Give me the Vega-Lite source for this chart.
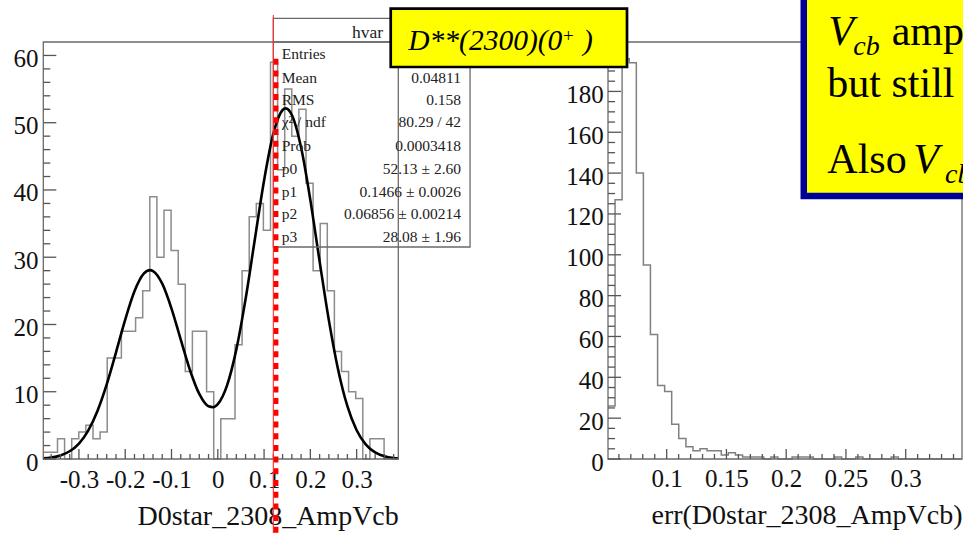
{
  "$schema": "https://vega.github.io/schema/vega-lite/v6.json",
  "width": 963,
  "height": 459,
  "autosize": {"type": "none"},
  "padding": {"left": 0, "top": 0, "right": 0, "bottom": 74},
  "background": "white",
  "config": {
    "view": {"stroke": null},
    "font": "Liberation Serif",
    "style": {
      "guide-label": {"font": "Liberation Serif", "fontSize": 25, "fill": "#111111"},
      "guide-title": {"font": "Liberation Serif", "fontSize": 28, "fontWeight": "normal", "fill": "#111111"}
    },
    "axis": {
      "domain": false,
      "grid": false,
      "ticks": false,
      "tickSize": 0,
      "labelFont": "Liberation Serif",
      "labelFontSize": 25,
      "labelColor": "#111111",
      "titleFont": "Liberation Serif",
      "titleFontSize": 28,
      "titleFontWeight": "normal",
      "titleColor": "#111111",
      "labelOverlap": false,
      "labelFlush": false,
      "labelBound": false
    }
  },
  "datasets": {
    "amp": [
      {"lo": -0.3770, "n": 1}, {"lo": -0.3617, "n": 1}, {"lo": -0.3463, "n": 3}, {"lo": -0.3310, "n": 0},
      {"lo": -0.3156, "n": 3}, {"lo": -0.3003, "n": 4}, {"lo": -0.2850, "n": 5}, {"lo": -0.2696, "n": 3},
      {"lo": -0.2543, "n": 4}, {"lo": -0.2389, "n": 15}, {"lo": -0.2236, "n": 15}, {"lo": -0.2083, "n": 19},
      {"lo": -0.1929, "n": 19}, {"lo": -0.1776, "n": 21}, {"lo": -0.1622, "n": 25}, {"lo": -0.1469, "n": 39},
      {"lo": -0.1316, "n": 30}, {"lo": -0.1162, "n": 37}, {"lo": -0.1009, "n": 31}, {"lo": -0.0855, "n": 26},
      {"lo": -0.0702, "n": 13}, {"lo": -0.0549, "n": 19}, {"lo": -0.0395, "n": 19}, {"lo": -0.0242, "n": 10},
      {"lo": -0.0088, "n": 0}, {"lo": 0.0065, "n": 6}, {"lo": 0.0218, "n": 6}, {"lo": 0.0372, "n": 17},
      {"lo": 0.0525, "n": 28}, {"lo": 0.0679, "n": 36}, {"lo": 0.0832, "n": 38}, {"lo": 0.0985, "n": 34},
      {"lo": 0.1139, "n": 59}, {"lo": 0.1292, "n": 43}, {"lo": 0.1446, "n": 55}, {"lo": 0.1599, "n": 48},
      {"lo": 0.1752, "n": 52}, {"lo": 0.1906, "n": 41}, {"lo": 0.2059, "n": 28}, {"lo": 0.2213, "n": 35},
      {"lo": 0.2366, "n": 25}, {"lo": 0.2519, "n": 16}, {"lo": 0.2673, "n": 13}, {"lo": 0.2826, "n": 10},
      {"lo": 0.2980, "n": 9}, {"lo": 0.3133, "n": 0}, {"lo": 0.3286, "n": 3}, {"lo": 0.3440, "n": 3},
      {"lo": 0.3593, "n": 0}, {"lo": 0.3747, "n": 0}, {"lo": 0.3900, "n": 0}
    ],
    "fit": [
      {"x": -0.377, "f": 0.10}, {"x": -0.36, "f": 0.22}, {"x": -0.34, "f": 0.53}, {"x": -0.32, "f": 1.15},
      {"x": -0.30, "f": 2.30}, {"x": -0.28, "f": 4.23}, {"x": -0.26, "f": 7.15}, {"x": -0.24, "f": 11.10},
      {"x": -0.22, "f": 15.83}, {"x": -0.20, "f": 20.73}, {"x": -0.18, "f": 24.94}, {"x": -0.16, "f": 27.55},
      {"x": -0.1466, "f": 28.08}, {"x": -0.14, "f": 27.95}, {"x": -0.12, "f": 26.07}, {"x": -0.10, "f": 22.37},
      {"x": -0.08, "f": 17.74}, {"x": -0.06, "f": 13.20}, {"x": -0.04, "f": 9.67}, {"x": -0.02, "f": 7.83},
      {"x": -0.01, "f": 7.70}, {"x": 0.00, "f": 8.15}, {"x": 0.02, "f": 10.94}, {"x": 0.04, "f": 16.26},
      {"x": 0.06, "f": 23.77}, {"x": 0.08, "f": 32.64}, {"x": 0.10, "f": 41.42}, {"x": 0.12, "f": 48.37},
      {"x": 0.14, "f": 51.89}, {"x": 0.1466, "f": 52.13}, {"x": 0.16, "f": 51.15}, {"x": 0.18, "f": 46.30},
      {"x": 0.20, "f": 38.49}, {"x": 0.22, "f": 29.39}, {"x": 0.24, "f": 20.61}, {"x": 0.26, "f": 13.27},
      {"x": 0.28, "f": 7.85}, {"x": 0.30, "f": 4.27}, {"x": 0.32, "f": 2.13}, {"x": 0.34, "f": 0.98},
      {"x": 0.36, "f": 0.41}, {"x": 0.38, "f": 0.16}, {"x": 0.39, "f": 0.10}
    ],
    "stats": [
      {"label": "Entries", "value": "967", "level": 60.21},
      {"label": "Mean", "value": "0.04811", "level": 56.60},
      {"label": "RMS", "value": "0.158", "level": 53.38},
      {"label": "χ² / ndf", "value": "80.29 / 42", "level": 50.06},
      {"label": "Prob", "value": "0.0003418", "level": 46.54},
      {"label": "p0", "value": "52.13 ± 2.60", "level": 43.12},
      {"label": "p1", "value": "0.1466 ± 0.0026", "level": 39.65},
      {"label": "p2", "value": "0.06856 ± 0.00214", "level": 36.38},
      {"label": "p3", "value": "28.08 ± 1.96", "level": 32.96}
    ],
    "ampYMajor": [{"v": 0}, {"v": 10}, {"v": 20}, {"v": 30}, {"v": 40}, {"v": 50}, {"v": 60}],
    "ampYMinor": [
      {"v": 2}, {"v": 4}, {"v": 6}, {"v": 8}, {"v": 12}, {"v": 14}, {"v": 16}, {"v": 18},
      {"v": 22}, {"v": 24}, {"v": 26}, {"v": 28}, {"v": 32}, {"v": 34}, {"v": 36}, {"v": 38},
      {"v": 42}, {"v": 44}, {"v": 46}, {"v": 48}, {"v": 52}, {"v": 54}, {"v": 56}, {"v": 58}
    ],
    "ampXMajor": [{"v": -0.3}, {"v": -0.2}, {"v": -0.1}, {"v": 0}, {"v": 0.1}, {"v": 0.2}, {"v": 0.3}],
    "ampXMinor": [
      {"v": -0.36}, {"v": -0.34}, {"v": -0.32}, {"v": -0.28}, {"v": -0.26}, {"v": -0.24}, {"v": -0.22},
      {"v": -0.18}, {"v": -0.16}, {"v": -0.14}, {"v": -0.12}, {"v": -0.08}, {"v": -0.06}, {"v": -0.04},
      {"v": -0.02}, {"v": 0.02}, {"v": 0.04}, {"v": 0.06}, {"v": 0.08}, {"v": 0.12}, {"v": 0.14},
      {"v": 0.16}, {"v": 0.18}, {"v": 0.22}, {"v": 0.24}, {"v": 0.26}, {"v": 0.28}, {"v": 0.32},
      {"v": 0.34}, {"v": 0.36}, {"v": 0.38}
    ],
    "err": [
      {"lo": 0.0509, "n": 26}, {"lo": 0.0568, "n": 127}, {"lo": 0.0627, "n": 196}, {"lo": 0.0687, "n": 194},
      {"lo": 0.0746, "n": 140}, {"lo": 0.0805, "n": 95}, {"lo": 0.0864, "n": 61}, {"lo": 0.0924, "n": 36},
      {"lo": 0.0983, "n": 33}, {"lo": 0.1042, "n": 17}, {"lo": 0.1101, "n": 10}, {"lo": 0.1161, "n": 6},
      {"lo": 0.1220, "n": 4}, {"lo": 0.1279, "n": 5}, {"lo": 0.1338, "n": 4}, {"lo": 0.1398, "n": 4},
      {"lo": 0.1457, "n": 2}, {"lo": 0.1516, "n": 3}, {"lo": 0.1575, "n": 2}, {"lo": 0.1635, "n": 1},
      {"lo": 0.1694, "n": 1}, {"lo": 0.1753, "n": 1}, {"lo": 0.1812, "n": 0}, {"lo": 0.1872, "n": 1},
      {"lo": 0.1931, "n": 0}, {"lo": 0.1990, "n": 0}, {"lo": 0.2049, "n": 1}, {"lo": 0.2109, "n": 1},
      {"lo": 0.2168, "n": 1}, {"lo": 0.2227, "n": 0}, {"lo": 0.2286, "n": 0}, {"lo": 0.2345, "n": 0},
      {"lo": 0.2405, "n": 1}, {"lo": 0.2464, "n": 0}, {"lo": 0.2523, "n": 0}, {"lo": 0.2582, "n": 1},
      {"lo": 0.2642, "n": 0}, {"lo": 0.2701, "n": 0}, {"lo": 0.2760, "n": 0}, {"lo": 0.2819, "n": 0},
      {"lo": 0.2879, "n": 1}, {"lo": 0.2938, "n": 0}, {"lo": 0.2997, "n": 0}, {"lo": 0.3056, "n": 0},
      {"lo": 0.3116, "n": 0}, {"lo": 0.3175, "n": 0}, {"lo": 0.3234, "n": 0}, {"lo": 0.3293, "n": 0},
      {"lo": 0.3353, "n": 0}, {"lo": 0.3412, "n": 0}, {"lo": 0.3471, "n": 0}
    ],
    "errYMajor": [{"v": 0}, {"v": 20}, {"v": 40}, {"v": 60}, {"v": 80}, {"v": 100}, {"v": 120}, {"v": 140}, {"v": 160}, {"v": 180}, {"v": 200}],
    "errYMinor": [
      {"v": 5}, {"v": 10}, {"v": 15}, {"v": 25}, {"v": 30}, {"v": 35}, {"v": 45}, {"v": 50}, {"v": 55},
      {"v": 65}, {"v": 70}, {"v": 75}, {"v": 85}, {"v": 90}, {"v": 95}, {"v": 105}, {"v": 110}, {"v": 115},
      {"v": 125}, {"v": 130}, {"v": 135}, {"v": 145}, {"v": 150}, {"v": 155}, {"v": 165}, {"v": 170},
      {"v": 175}, {"v": 185}, {"v": 190}, {"v": 195}
    ],
    "errXMajor": [{"v": 0.1}, {"v": 0.15}, {"v": 0.2}, {"v": 0.25}, {"v": 0.3}],
    "errXMinor": [
      {"v": 0.06}, {"v": 0.07}, {"v": 0.08}, {"v": 0.09}, {"v": 0.11}, {"v": 0.12}, {"v": 0.13}, {"v": 0.14},
      {"v": 0.16}, {"v": 0.17}, {"v": 0.18}, {"v": 0.19}, {"v": 0.21}, {"v": 0.22}, {"v": 0.23}, {"v": 0.24},
      {"v": 0.26}, {"v": 0.27}, {"v": 0.28}, {"v": 0.29}, {"v": 0.31}, {"v": 0.32}, {"v": 0.33}, {"v": 0.34}
    ]
  },
  "layer": [
    {
      "layer": [
        {
          "data": {"name": "amp"},
          "mark": {"type": "line", "interpolate": "step-after", "stroke": "#8c8c8c", "strokeWidth": 1.5},
          "encoding": {
            "x": {
              "field": "lo", "type": "quantitative",
              "scale": {"domain": [-0.377, 0.39], "range": [43.3, 398.3], "nice": false, "zero": false},
              "axis": {
                "orient": "bottom",
                "values": [-0.3, -0.2, -0.1, 0, 0.1, 0.2, 0.3],
                "labelExpr": "abs(datum.value) < 0.001 ? '0' : (datum.value < 0 ? '-' : '') + format(abs(datum.value), '.1f')",
                "labelFont": "Liberation Serif",
                "labelFontSize": 25,
                "labelBaseline": "alphabetic",
                "labelPadding": 28.3,
                "labelOverlap": false,
                "title": "D0star_2308_AmpVcb",
                "titleFont": "Liberation Serif",
                "titleFontSize": 28,
                "titleFontWeight": "normal",
                "titleAnchor": "end",
                "titleBaseline": "alphabetic",
                "titleY": 65.5
              }
            },
            "y": {
              "field": "n", "type": "quantitative",
              "scale": {"domain": [0, 62], "range": [459, 42], "nice": false, "zero": false},
              "axis": {
                "orient": "left",
                "offset": -43.3,
                "values": [0, 10, 20, 30, 40, 50, 60],
                "labelFont": "Liberation Serif",
                "labelFontSize": 25,
                "labelPadding": 5.3,
                "labelOffset": 3,
                "labelOverlap": false,
                "title": null
              }
            }
          }
        },
        {
          "data": {"name": "fit"},
          "mark": {"type": "line", "interpolate": "monotone", "stroke": "#000000", "strokeWidth": 2.6},
          "encoding": {
            "x": {"field": "x", "type": "quantitative"},
            "y": {"field": "f", "type": "quantitative"}
          }
        },
        {
          "data": {"values": [{}]},
          "mark": {"type": "rect", "fillOpacity": 0, "stroke": "#6a6a6a", "strokeWidth": 1.3},
          "encoding": {
            "x": {"datum": -0.377}, "x2": {"datum": 0.39},
            "y": {"datum": 0}, "y2": {"datum": 62}
          }
        },
        {
          "data": {"name": "ampYMajor"},
          "mark": {"type": "rule", "stroke": "#555555", "strokeWidth": 1.3},
          "encoding": {
            "x": {"datum": -0.377}, "x2": {"datum": -0.3489},
            "y": {"field": "v", "type": "quantitative"}
          }
        },
        {
          "data": {"name": "ampYMinor"},
          "mark": {"type": "rule", "stroke": "#555555", "strokeWidth": 1.3},
          "encoding": {
            "x": {"datum": -0.377}, "x2": {"datum": -0.3619},
            "y": {"field": "v", "type": "quantitative"}
          }
        },
        {
          "data": {"name": "ampXMajor"},
          "mark": {"type": "rule", "stroke": "#555555", "strokeWidth": 1.3},
          "encoding": {
            "x": {"field": "v", "type": "quantitative"},
            "y": {"datum": 0}, "y2": {"datum": 1.49}
          }
        },
        {
          "data": {"name": "ampXMinor"},
          "mark": {"type": "rule", "stroke": "#555555", "strokeWidth": 1.3},
          "encoding": {
            "x": {"field": "v", "type": "quantitative"},
            "y": {"datum": 0}, "y2": {"datum": 0.74}
          }
        },
        {
          "data": {"values": [{}]},
          "mark": {"type": "rect", "fillOpacity": 0, "stroke": "#6a6a6a", "strokeWidth": 1.3},
          "encoding": {
            "x": {"datum": 0.12}, "x2": {"datum": 0.545},
            "y": {"datum": 31.52}, "y2": {"datum": 65.52}
          }
        },
        {
          "data": {"values": [{}]},
          "mark": {"type": "rule", "stroke": "#6a6a6a", "strokeWidth": 1.3},
          "encoding": {
            "x": {"datum": 0.12}, "x2": {"datum": 0.545},
            "y": {"datum": 62}
          }
        },
        {
          "data": {"values": [{"t": "hvar"}]},
          "mark": {"type": "text", "align": "left", "baseline": "alphabetic", "fontSize": 17.5, "font": "Liberation Serif", "color": "#222222"},
          "encoding": {
            "x": {"datum": 0.29},
            "y": {"datum": 62.55},
            "text": {"field": "t"}
          }
        },
        {
          "data": {"name": "stats"},
          "mark": {"type": "text", "align": "left", "baseline": "middle", "fontSize": 15.5, "font": "Liberation Serif", "color": "#222222"},
          "encoding": {
            "x": {"datum": 0.1381},
            "y": {"field": "level", "type": "quantitative"},
            "text": {"field": "label"}
          }
        },
        {
          "data": {"name": "stats"},
          "mark": {"type": "text", "align": "right", "baseline": "middle", "fontSize": 15.5, "font": "Liberation Serif", "color": "#222222"},
          "encoding": {
            "x": {"datum": 0.5255},
            "y": {"field": "level", "type": "quantitative"},
            "text": {"field": "value"}
          }
        },
        {
          "data": {"values": [{}]},
          "mark": {"type": "rule", "stroke": "#ff3030", "strokeWidth": 1.1},
          "encoding": {
            "x": {"datum": 0.12},
            "y": {"datum": 66.0}, "y2": {"datum": -11.0}
          }
        },
        {
          "data": {"values": [{}]},
          "mark": {"type": "rule", "stroke": "#ff0000", "strokeWidth": 4.8, "strokeDash": [6, 5.7]},
          "encoding": {
            "x": {"datum": 0.1258},
            "y": {"datum": 59.5}, "y2": {"datum": -11.0}
          }
        }
      ]
    },
    {
      "layer": [
        {
          "data": {"name": "err"},
          "mark": {"type": "line", "interpolate": "step-after", "stroke": "#808080", "strokeWidth": 1.5},
          "encoding": {
            "x": {
              "field": "lo", "type": "quantitative",
              "scale": {"domain": [0.0509, 0.3471], "range": [608, 962], "nice": false, "zero": false},
              "axis": {
                "orient": "bottom",
                "values": [0.1, 0.15, 0.2, 0.25, 0.3],
                "labelExpr": "format(datum.value, '~g')",
                "labelFont": "Liberation Serif",
                "labelFontSize": 25,
                "labelBaseline": "alphabetic",
                "labelPadding": 27.7,
                "labelOverlap": false,
                "title": "err(D0star_2308_AmpVcb)",
                "titleFont": "Liberation Serif",
                "titleFontSize": 28,
                "titleFontWeight": "normal",
                "titleAnchor": "end",
                "titleBaseline": "alphabetic",
                "titleY": 64.3
              }
            },
            "y": {
              "field": "n", "type": "quantitative",
              "scale": {"domain": [0, 204.2], "range": [459, 42], "nice": false, "zero": false},
              "axis": {
                "orient": "left",
                "offset": -608,
                "values": [0, 20, 40, 60, 80, 100, 120, 140, 160, 180],
                "labelFont": "Liberation Serif",
                "labelFontSize": 25,
                "labelPadding": 4.7,
                "labelOffset": 3,
                "labelOverlap": false,
                "title": null
              }
            }
          }
        },
        {
          "data": {"values": [{}]},
          "mark": {"type": "rect", "fillOpacity": 0, "stroke": "#6a6a6a", "strokeWidth": 1.3},
          "encoding": {
            "x": {"datum": 0.0509}, "x2": {"datum": 0.3471},
            "y": {"datum": 0}, "y2": {"datum": 204.2}
          }
        },
        {
          "data": {"name": "errYMajor"},
          "mark": {"type": "rule", "stroke": "#555555", "strokeWidth": 1.3},
          "encoding": {
            "x": {"datum": 0.0509}, "x2": {"datum": 0.0618},
            "y": {"field": "v", "type": "quantitative"}
          }
        },
        {
          "data": {"name": "errYMinor"},
          "mark": {"type": "rule", "stroke": "#555555", "strokeWidth": 1.3},
          "encoding": {
            "x": {"datum": 0.0509}, "x2": {"datum": 0.0568},
            "y": {"field": "v", "type": "quantitative"}
          }
        },
        {
          "data": {"name": "errXMajor"},
          "mark": {"type": "rule", "stroke": "#555555", "strokeWidth": 1.3},
          "encoding": {
            "x": {"field": "v", "type": "quantitative"},
            "y": {"datum": 0}, "y2": {"datum": 4.9}
          }
        },
        {
          "data": {"name": "errXMinor"},
          "mark": {"type": "rule", "stroke": "#555555", "strokeWidth": 1.3},
          "encoding": {
            "x": {"field": "v", "type": "quantitative"},
            "y": {"datum": 0}, "y2": {"datum": 2.45}
          }
        },
        {
          "data": {"values": [{}]},
          "mark": {"type": "rect", "fill": "#ffff00", "stroke": "#000000", "strokeWidth": 2.7},
          "encoding": {
            "x": {"datum": -0.1309}, "x2": {"datum": 0.0668},
            "y": {"datum": 191.96}, "y2": {"datum": 220.5}
          }
        },
        {
          "data": {"values": [{"t": "D**(2300)(0"}]},
          "mark": {"type": "text", "align": "left", "baseline": "alphabetic", "fontSize": 29.5, "fontStyle": "italic", "font": "Liberation Serif", "color": "#000000"},
          "encoding": {"x": {"datum": -0.1162}, "y": {"datum": 200.3}, "text": {"field": "t"}}
        },
        {
          "data": {"values": [{"t": "+"}]},
          "mark": {"type": "text", "align": "left", "baseline": "alphabetic", "fontSize": 19, "font": "Liberation Serif", "color": "#000000"},
          "encoding": {"x": {"datum": 0.0133}, "y": {"datum": 204.2}, "text": {"field": "t"}}
        },
        {
          "data": {"values": [{"t": ")"}]},
          "mark": {"type": "text", "align": "left", "baseline": "alphabetic", "fontSize": 29.5, "fontStyle": "italic", "font": "Liberation Serif", "color": "#000000"},
          "encoding": {"x": {"datum": 0.0300}, "y": {"datum": 200.3}, "text": {"field": "t"}}
        },
        {
          "data": {"values": [{}]},
          "mark": {"type": "rect", "fill": "#ffff00", "stroke": "#000099", "strokeWidth": 6.5},
          "encoding": {
            "x": {"datum": 0.2147}, "x2": {"datum": 0.40},
            "y": {"datum": 128.8}, "y2": {"datum": 240}
          }
        },
        {
          "data": {"values": [{"t": "V"}]},
          "mark": {"type": "text", "align": "left", "baseline": "alphabetic", "fontSize": 42, "fontStyle": "italic", "font": "Liberation Serif", "color": "#000000"},
          "encoding": {"x": {"datum": 0.2352}, "y": {"datum": 202.7}, "text": {"field": "t"}}
        },
        {
          "data": {"values": [{"t": "cb"}]},
          "mark": {"type": "text", "align": "left", "baseline": "alphabetic", "fontSize": 28, "fontStyle": "italic", "font": "Liberation Serif", "color": "#000000"},
          "encoding": {"x": {"datum": 0.2562}, "y": {"datum": 197.8}, "text": {"field": "t"}}
        },
        {
          "data": {"values": [{"t": "amplitude"}]},
          "mark": {"type": "text", "align": "left", "baseline": "alphabetic", "fontSize": 42, "font": "Liberation Serif", "color": "#000000"},
          "encoding": {"x": {"datum": 0.2883}, "y": {"datum": 202.7}, "text": {"field": "t"}}
        },
        {
          "data": {"values": [{"t": "but still"}]},
          "mark": {"type": "text", "align": "left", "baseline": "alphabetic", "fontSize": 42, "font": "Liberation Serif", "color": "#000000"},
          "encoding": {"x": {"datum": 0.2344}, "y": {"datum": 177.4}, "text": {"field": "t"}}
        },
        {
          "data": {"values": [{"t": "Also"}]},
          "mark": {"type": "text", "align": "left", "baseline": "alphabetic", "fontSize": 42, "font": "Liberation Serif", "color": "#000000"},
          "encoding": {"x": {"datum": 0.2344}, "y": {"datum": 139.9}, "text": {"field": "t"}}
        },
        {
          "data": {"values": [{"t": "V"}]},
          "mark": {"type": "text", "align": "left", "baseline": "alphabetic", "fontSize": 42, "fontStyle": "italic", "font": "Liberation Serif", "color": "#000000"},
          "encoding": {"x": {"datum": 0.3064}, "y": {"datum": 139.9}, "text": {"field": "t"}}
        },
        {
          "data": {"values": [{"t": "cb"}]},
          "mark": {"type": "text", "align": "left", "baseline": "alphabetic", "fontSize": 28, "fontStyle": "italic", "font": "Liberation Serif", "color": "#000000"},
          "encoding": {"x": {"datum": 0.3329}, "y": {"datum": 135.0}, "text": {"field": "t"}}
        }
      ]
    }
  ],
  "resolve": {
    "scale": {"x": "independent", "y": "independent"},
    "axis": {"x": "independent", "y": "independent"}
  }
}
